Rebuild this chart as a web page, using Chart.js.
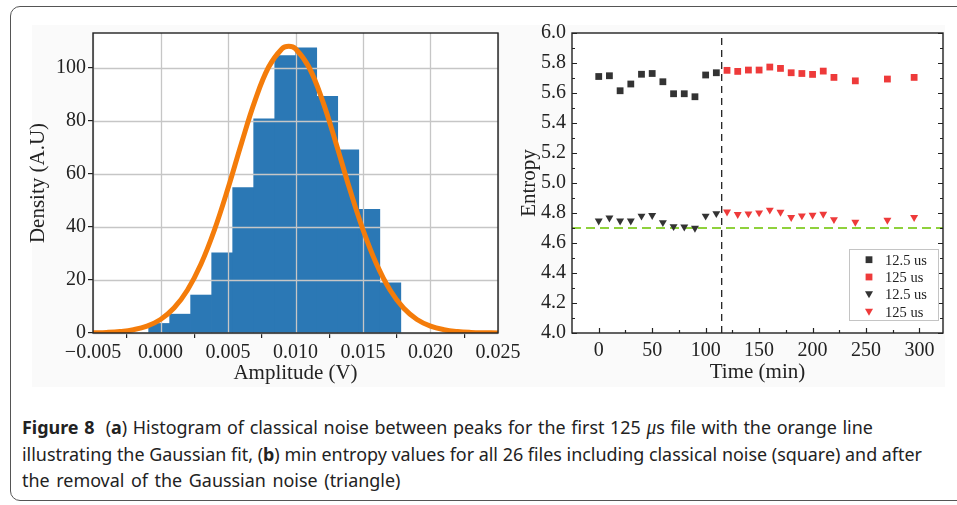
<!DOCTYPE html>
<html>
<head>
<meta charset="utf-8">
<script src="https://cdn.jsdelivr.net/npm/chart.js@4.4.1/dist/chart.umd.min.js"></script>
<style>
  body { margin: 0; background: #fff; width: 957px; height: 505px; overflow: hidden; position: relative; }
  .frame { position: absolute; left: 10px; top: 6px; width: 990px; height: 493px; border: 1.5px solid #555; border-radius: 10px; }
  .figure { position: absolute; left: 32px; top: 25px; width: 913px; height: 362px; background: #fafafa; }
  #histCanvas { position: absolute; left: 20px; top: 0; }
  #entropyCanvas { position: absolute; left: 510px; top: 0; }
  .caption { position: absolute; left: 22px; top: 414px; color: #222; font-family: "Noto Sans", sans-serif; font-size: 18.5px; }
  .caption span { display: inline-block; white-space: nowrap; transform-origin: 0 0; height: 26.5px; line-height: 26.5px; }
  .caption div { height: 26.5px; }
  .mu { font-family: "Liberation Serif", serif; font-style: italic; font-size: 20px; }
</style>
</head>
<body>
<div class="frame"></div>
<div class="figure"></div>
<canvas id="histCanvas" width="530" height="400"></canvas>
<canvas id="entropyCanvas" width="447" height="400"></canvas>
<div class="caption">
  <div><span style="word-spacing:1px"><b>Figure 8</b>&nbsp; (<b>a</b>) Histogram of classical noise between peaks for the first 125 <span class="mu">μ</span>s file with the orange line</span></div>
  <div><span>illustrating the Gaussian fit, (<b>b</b>) min entropy values for all 26 files including classical noise (square) and after</span></div>
  <div><span style="word-spacing:2px">the removal of the Gaussian noise (triangle)</span></div>
</div>
<script>
// (a) histogram of the noise amplitude between peaks
const binEdges = [-0.00088, 0.00068, 0.00223, 0.00379, 0.00535, 0.00690, 0.00846, 0.01002, 0.01157, 0.01313, 0.01469, 0.01625, 0.01780];
const density = [3.6, 7.1, 14.3, 30.2, 54.8, 80.7, 104.5, 107.4, 89.1, 69.0, 46.6, 18.9];

// gaussian fit, sampled along the amplitude axis
const fitAmp = [-0.005, -0.004, -0.003, -0.002, -0.001, 0, 0.001, 0.002, 0.003, 0.004, 0.005, 0.006, 0.007, 0.008, 0.009, 0.0095,
  0.010, 0.011, 0.012, 0.013, 0.014, 0.015, 0.016, 0.017, 0.018, 0.019, 0.020, 0.021, 0.022, 0.023, 0.024, 0.025];
const fitDensity = [0.09, 0.23, 0.56, 1.25, 2.6, 5.1, 9.4, 16.2, 26.0, 38.9, 54.5, 71.5, 87.5, 100.1, 107.1, 108,
  107.1, 100.1, 87.5, 71.5, 54.5, 38.9, 26.0, 16.2, 9.4, 5.1, 2.6, 1.25, 0.56, 0.23, 0.09, 0.03];

// (b) min entropy per file, with classical noise (raw) and after removal (clean)
const timeShort = [0, 10, 20, 30, 40, 50, 60, 70, 80, 90, 100, 110];
const rawShort = [5.71, 5.715, 5.615, 5.66, 5.725, 5.73, 5.675, 5.595, 5.595, 5.575, 5.72, 5.735];
const cleanShort = [4.748, 4.768, 4.748, 4.748, 4.78, 4.784, 4.737, 4.71, 4.708, 4.699, 4.78, 4.797];
const timeLong = [120, 130, 140, 150, 160, 170, 180, 190, 200, 210, 220, 240, 270, 295];
const rawLong = [5.751, 5.744, 5.753, 5.753, 5.773, 5.764, 5.735, 5.73, 5.724, 5.746, 5.704, 5.681, 5.693, 5.704];
const cleanLong = [4.808, 4.791, 4.795, 4.802, 4.82, 4.806, 4.771, 4.782, 4.786, 4.793, 4.757, 4.739, 4.753, 4.771];
const seriesLabels = ["12.5 us", "125 us", "12.5 us", "125 us"];
const switchTime = 115;
const entropyFloor = 4.7;

Chart.defaults.font.family = "'Liberation Serif', 'Times New Roman', serif";
Chart.defaults.color = "#222";
Chart.defaults.animation = false;

const serifTicks = { size: 20 };
const serifTitle = { size: 21 };

// white axes background
const whitePlot = {
  id: "whitePlot",
  beforeDatasetsDraw(chart) {
    const a = chart.chartArea, ctx = chart.ctx;
    ctx.save();
    ctx.fillStyle = "#fff";
    ctx.fillRect(a.left, a.top, a.right - a.left, a.bottom - a.top);
    ctx.restore();
  }
};

function drawBox(chart) {
  const a = chart.chartArea, ctx = chart.ctx;
  ctx.save();
  ctx.strokeStyle = "#222";
  ctx.lineWidth = 1.4;
  ctx.strokeRect(a.left, a.top, a.right - a.left, a.bottom - a.top);
  ctx.restore();
}

// grid sits above the bars but under the fitted line
const histGrid = {
  id: "histGrid",
  afterDatasetDraw(chart, args) {
    if (args.index !== 0) return;
    const a = chart.chartArea, ctx = chart.ctx;
    const xs = chart.scales.x, ys = chart.scales.y;
    ctx.save();
    ctx.strokeStyle = "#c6c6c6";
    ctx.lineWidth = 1.3;
    ctx.beginPath();
    xs.ticks.forEach(t => {
      const px = Math.round(xs.getPixelForValue(t.value)) + 0.5;
      ctx.moveTo(px, a.top); ctx.lineTo(px, a.bottom);
    });
    ys.ticks.forEach(t => {
      const py = Math.round(ys.getPixelForValue(t.value)) + 0.5;
      ctx.moveTo(a.left, py); ctx.lineTo(a.right, py);
    });
    ctx.stroke();
    ctx.restore();
  },
  afterDraw(chart) { drawBox(chart); }
};

const fmtAmp = v => (Math.abs(v) < 1e-9 ? 0 : v).toFixed(3).replace("-", "\u2212");

new Chart(document.getElementById("histCanvas").getContext("2d"), {
  type: "bar",
  data: {
    datasets: [
      {
        type: "bar",
        data: density.map((d, i) => ({ x: (binEdges[i] + binEdges[i + 1]) / 2, y: d })),
        backgroundColor: "#2b78b5",
        barPercentage: 1,
        categoryPercentage: 1,
        order: 2
      },
      {
        type: "line",
        data: fitAmp.map((a, i) => ({ x: a, y: fitDensity[i] })),
        borderColor: "#f47c0a",
        borderWidth: 5,
        pointRadius: 0,
        tension: 0.4,
        order: 1
      }
    ]
  },
  options: {
    responsive: false,
    layout: { padding: { left: 0, right: 52, top: 33, bottom: 0 } },
    plugins: { legend: { display: false }, tooltip: { enabled: false } },
    scales: {
      x: {
        type: "linear", min: -0.005, max: 0.025, offset: false,
        ticks: { stepSize: 0.005, includeBounds: false, autoSkip: false, maxRotation: 0, padding: 3, font: serifTicks, color: "#222", callback: fmtAmp },
        grid: { drawOnChartArea: false, tickLength: 5, tickColor: "#222", lineWidth: 1.2 },
        border: { display: false },
        title: { display: true, text: "Amplitude (V)", font: serifTitle, color: "#222", padding: { top: 0, bottom: 14 } },
        afterFit: s => { s.height = 67; }
      },
      y: {
        min: 0, max: 113,
        ticks: { stepSize: 20, includeBounds: false, padding: 2, font: serifTicks, color: "#222" },
        grid: { drawOnChartArea: false, tickLength: 5, tickColor: "#222", lineWidth: 1.2 },
        border: { display: false },
        title: { display: true, text: "Density (A.U)", font: serifTitle, color: "#222", padding: { top: 6, bottom: 0 } },
        afterFit: s => { s.width = 73; }
      }
    }
  },
  plugins: [whitePlot, histGrid]
});

// inward ticks, box and legend for the entropy panel
const entropyFrame = {
  id: "entropyFrame",
  afterDraw(chart) {
    const a = chart.chartArea, ctx = chart.ctx;
    const xs = chart.scales.x, ys = chart.scales.y;
    drawBox(chart);
    ctx.save();
    ctx.strokeStyle = "#222";
    ctx.lineWidth = 1.2;
    ctx.beginPath();
    for (let t = 0; t <= 300; t += 25) {
      const px = Math.round(xs.getPixelForValue(t)) + 0.5;
      const len = t % 50 === 0 ? 5 : 3;
      ctx.moveTo(px, a.bottom); ctx.lineTo(px, a.bottom - len);
    }
    for (let k = 0; k <= 20; k++) {
      const py = Math.round(ys.getPixelForValue(4 + k * 0.1)) + 0.5;
      const len = k % 2 === 0 ? 5 : 3;
      ctx.moveTo(a.left, py); ctx.lineTo(a.left + len, py);
      ctx.moveTo(a.right, py); ctx.lineTo(a.right - len, py);
    }
    ctx.stroke();

    // legend box
    const w = 89, h = 71;
    const bx = a.right - 5 - w, by = a.bottom - 13 - h;
    ctx.fillStyle = "#fff";
    ctx.fillRect(bx, by, w, h);
    ctx.strokeStyle = "#c4c4c4";
    ctx.lineWidth = 1;
    ctx.strokeRect(bx + 0.5, by + 0.5, w, h);
    const rows = [10.7, 28, 45.3, 62.7];
    ctx.font = "14.5px 'Liberation Serif', serif";
    ctx.textBaseline = "middle";
    chart.data.datasets.slice(0, 4).forEach((ds, i) => {
      const mx = bx + 20, my = by + rows[i];
      ctx.fillStyle = ds.backgroundColor;
      if (ds.pointStyle === "rect") {
        ctx.fillRect(mx - 3.4, my - 3.4, 6.8, 6.8);
      } else {
        ctx.beginPath();
        ctx.moveTo(mx - 4, my - 3);
        ctx.lineTo(mx + 4, my - 3);
        ctx.lineTo(mx, my + 4);
        ctx.closePath();
        ctx.fill();
      }
      ctx.fillStyle = "#222";
      ctx.fillText(ds.label, bx + 36, my + 1);
    });
    ctx.restore();
  }
};

const pts = (xs, ys) => xs.map((x, i) => ({ x: x, y: ys[i] }));

new Chart(document.getElementById("entropyCanvas").getContext("2d"), {
  type: "scatter",
  data: {
    datasets: [
      { label: seriesLabels[0], data: pts(timeShort, rawShort), pointStyle: "rect", pointRadius: 4.8, backgroundColor: "#333", borderWidth: 0, order: 1 },
      { label: seriesLabels[1], data: pts(timeLong, rawLong), pointStyle: "rect", pointRadius: 4.8, backgroundColor: "#ee3a3a", borderWidth: 0, order: 1 },
      { label: seriesLabels[2], data: pts(timeShort, cleanShort), pointStyle: "triangle", rotation: 180, pointRadius: 4.6, backgroundColor: "#333", borderWidth: 0, order: 1 },
      { label: seriesLabels[3], data: pts(timeLong, cleanLong), pointStyle: "triangle", rotation: 180, pointRadius: 4.6, backgroundColor: "#ee3a3a", borderWidth: 0, order: 1 },
      { label: "switch", data: [{ x: switchTime, y: 4.0 }, { x: switchTime, y: 6.0 }], showLine: true, borderColor: "#222", borderWidth: 1.3, borderDash: [7, 5], pointRadius: 0, order: 3 },
      { label: "floor", data: [{ x: -25, y: entropyFloor }, { x: 322, y: entropyFloor }], showLine: true, borderColor: "#8fd13c", borderWidth: 2, borderDash: [9, 5], pointRadius: 0, order: 2 }
    ]
  },
  options: {
    responsive: false,
    layout: { padding: { left: 0, right: 14, top: 33, bottom: 0 } },
    plugins: { legend: { display: false }, tooltip: { enabled: false } },
    scales: {
      x: {
        type: "linear", min: -25, max: 322,
        ticks: { stepSize: 50, includeBounds: false, autoSkip: false, maxRotation: 0, padding: 6, font: serifTicks, color: "#222" },
        grid: { display: false, drawTicks: false },
        border: { display: false },
        title: { display: true, text: "Time (min)", font: serifTitle, color: "#222", padding: { top: 0, bottom: 15 } },
        afterFit: s => { s.height = 67; }
      },
      y: {
        min: 4, max: 6,
        ticks: { stepSize: 0.2, includeBounds: false, padding: 6, font: serifTicks, color: "#222", callback: v => v.toFixed(1) },
        grid: { display: false, drawTicks: false },
        border: { display: false },
        title: { display: true, text: "Entropy", font: serifTitle, color: "#222", padding: { top: 7, bottom: 0 } },
        afterFit: s => { s.width = 62; }
      }
    }
  },
  plugins: [whitePlot, entropyFrame]
});

// condensed caption: one horizontal squeeze for all lines, taken from the longest one
const capLines = document.querySelectorAll(".caption > div > span");
const squeeze = 900 / capLines[1].getBoundingClientRect().width;
capLines.forEach(l => { l.style.transform = "scaleX(" + squeeze + ")"; });
</script>
</body>
</html>
